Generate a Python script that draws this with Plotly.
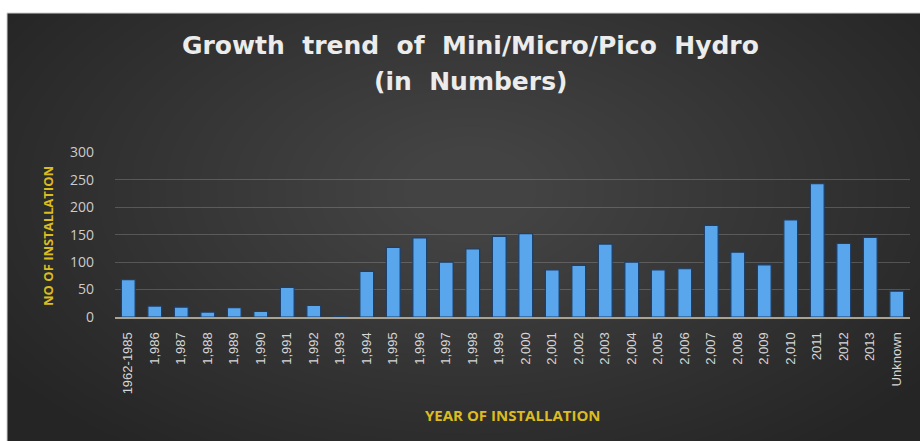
import plotly.graph_objects as go

# Installations per year of installation
years = ["1962-1985", "1,986", "1,987", "1,988", "1,989", "1,990", "1,991", "1,992",
         "1,993", "1,994", "1,995", "1,996", "1,997", "1,998", "1,999", "2,000",
         "2,001", "2,002", "2,003", "2,004", "2,005", "2,006", "2,007", "2,008",
         "2,009", "2,010", "2011", "2012", "2013", "Unknown"]
installations = [68, 20, 18, 9, 17, 10, 54, 21, 2, 83, 127, 144, 100, 124, 147, 152,
                 86, 94, 133, 100, 86, 88, 167, 118, 95, 177, 243, 134, 145, 47]
y_ticks = [0, 50, 100, 150, 200, 250, 300]

title_lines = ["Growth  trend  of  Mini/Micro/Pico  Hydro", "(in  Numbers)"]
x_title = "YEAR OF INSTALLATION"
y_title = "NO OF INSTALLATION"

W, H = 920, 441
L, R, T, B = 115, 10, 152, 124
pw, ph = W - L - R, H - T - B


def px(x):
    return (x - L) / pw


def py(y):
    return (H - B - y) / ph


fig = go.Figure()
fig.add_trace(go.Bar(
    x=years, y=installations,
    marker=dict(color="#5aa6ec", line=dict(color="#1c3f6a", width=1.2)),
))

shapes = [
    # dark chart panel
    dict(type="rect", xref="paper", yref="paper", layer="below",
         x0=px(7), x1=px(922), y0=py(443), y1=py(13),
         fillcolor="#252525", line=dict(color="#cfcfcf", width=1)),
]
# soft radial lightening toward the centre of the panel
cx, cy = 470, 190
n = 30
for i in range(n):
    rx = 560 - i * 17
    ry = 320 - i * 9.5
    shapes.append(dict(type="circle", xref="paper", yref="paper", layer="below",
                       x0=px(cx - rx), x1=px(cx + rx), y0=py(cy + ry), y1=py(cy - ry),
                       fillcolor="rgba(255,255,255,0.0065)", line=dict(width=0)))

title_font = dict(family="DejaVu Sans", size=25, color="#ececec", weight="bold")
label_font = dict(family="Open Sans", size=15, color="#dcbc1e", weight="bold")
annotations = [
    dict(text=title_lines[0], xref="paper", yref="paper", x=px(470), y=py(45),
         xanchor="center", yanchor="middle", showarrow=False, font=title_font),
    dict(text=title_lines[1], xref="paper", yref="paper", x=px(470), y=py(82),
         xanchor="center", yanchor="middle", showarrow=False, font=title_font),
    dict(text=x_title, xref="paper", yref="paper", x=px(513), y=py(415),
         xanchor="center", yanchor="middle", showarrow=False, font=label_font),
    dict(text=y_title, xref="paper", yref="paper", x=px(48), y=py(236),
         xanchor="center", yanchor="middle", showarrow=False, textangle=-90,
         font=dict(family="Open Sans", size=13, color="#dcbc1e", weight="bold")),
]

fig.update_layout(
    width=W, height=H,
    margin=dict(l=L, r=R, t=T, b=B),
    paper_bgcolor="white",
    plot_bgcolor="rgba(0,0,0,0)",
    showlegend=False,
    shapes=shapes,
    annotations=annotations,
    bargap=0.48,
)
fig.update_xaxes(
    type="category", tickangle=-90,
    tickfont=dict(family="Liberation Sans", size=13, color="#d6d6d6"),
    showline=True, linecolor="#a9a394", linewidth=2,
    showgrid=False, ticks="", ticklabelstandoff=8,
)
fig.update_yaxes(
    range=[0, 300.8], tickvals=y_ticks,
    tickfont=dict(family="Open Sans", size=14, color="#cccccc"),
    gridcolor="rgba(200,200,200,0.25)", gridwidth=1, zeroline=False,
    ticks="", ticklabelstandoff=20,
)

fig.write_html("out.html")
